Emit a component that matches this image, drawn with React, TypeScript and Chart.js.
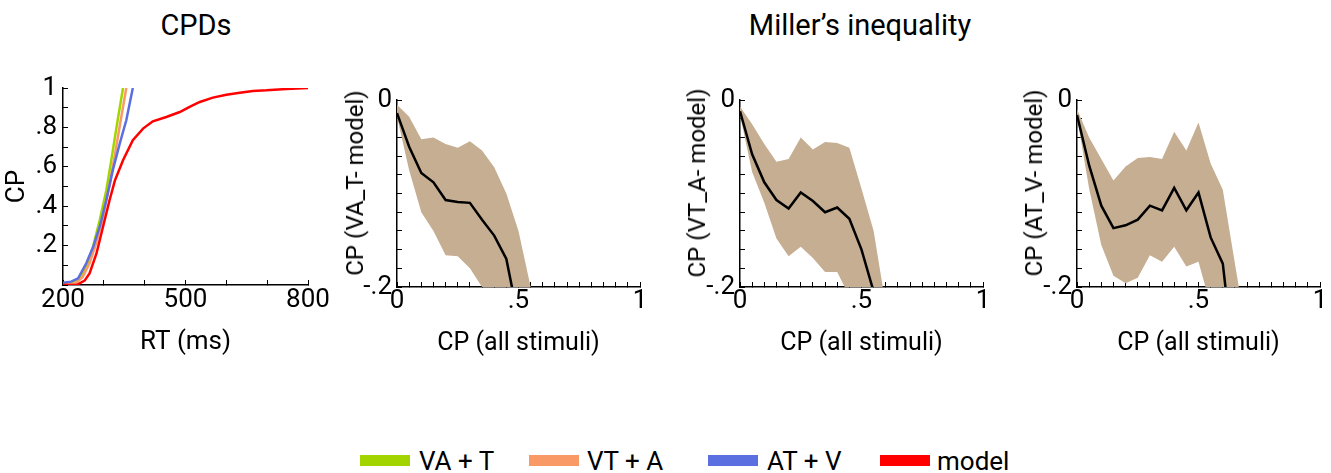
import React, { useEffect, useRef } from "react";
import { Chart, registerables } from "chart.js";

Chart.register(...registerables);

const FONT = "Roboto";
const FS = 26;
const BAND = "#c5ae91";

// ---------- Panel 1: CPDs ----------
const greenRT = [200, 222, 240, 257, 273, 290, 306, 318, 331, 347];
const greenCP = [0.005, 0.012, 0.035, 0.09, 0.19, 0.33, 0.48, 0.63, 0.8, 1.0];
const orangeRT = [200, 230, 248, 265, 281, 298, 314, 327, 340, 355];
const orangeCP = [0, 0.008, 0.04, 0.11, 0.21, 0.345, 0.51, 0.66, 0.82, 1.0];
const blueRT = [200, 220, 237, 257, 274, 290, 306, 322, 339, 355, 371];
const blueCP = [0.012, 0.017, 0.034, 0.11, 0.194, 0.296, 0.43, 0.583, 0.718, 0.836, 1.0];
const redRT = [200, 233, 253, 265, 282, 298, 314, 327, 347, 371, 396, 420, 453, 486, 510, 535, 567, 600, 633, 665, 698, 747, 800];
const redCP = [0, 0, 0.022, 0.059, 0.16, 0.296, 0.43, 0.53, 0.633, 0.735, 0.794, 0.831, 0.853, 0.878, 0.904, 0.929, 0.951, 0.966, 0.976, 0.985, 0.988, 0.995, 1.0];

// ---------- Panels 2-4: Miller's inequality ----------
const cpX = [0, 0.05, 0.1, 0.15, 0.2, 0.25, 0.3, 0.35, 0.4, 0.45, 0.5, 0.55, 0.6, 0.65, 0.7];

const vaMean = [-0.014, -0.05, -0.078, -0.088, -0.107, -0.109, -0.11, -0.128, -0.145, -0.17, -0.235];
const vaUpper = [-0.005, -0.018, -0.042, -0.04, -0.047, -0.051, -0.044, -0.054, -0.072, -0.1, -0.14, -0.2, -0.26];
const vaLower = [-0.018, -0.075, -0.12, -0.14, -0.166, -0.167, -0.18, -0.2, -0.23, -0.26, -0.3, -0.33, -0.36];

const vtMean = [-0.012, -0.058, -0.088, -0.107, -0.116, -0.099, -0.108, -0.12, -0.115, -0.127, -0.16, -0.205];
const vtUpper = [-0.007, -0.026, -0.047, -0.066, -0.063, -0.04, -0.053, -0.045, -0.046, -0.051, -0.095, -0.14, -0.22];
const vtLower = [-0.016, -0.077, -0.11, -0.148, -0.167, -0.157, -0.169, -0.184, -0.184, -0.21, -0.24, -0.27, -0.3];

const atMean = [-0.016, -0.07, -0.113, -0.137, -0.134, -0.128, -0.113, -0.118, -0.094, -0.118, -0.099, -0.147, -0.175, -0.29];
const atUpper = [-0.01, -0.04, -0.063, -0.086, -0.071, -0.062, -0.061, -0.063, -0.034, -0.054, -0.024, -0.068, -0.096, -0.175, -0.254];
const atLower = [-0.018, -0.095, -0.155, -0.188, -0.196, -0.19, -0.166, -0.173, -0.157, -0.178, -0.173, -0.22, -0.26, -0.3, -0.34];

// ---------- Labels ----------
const legendLabels = ["VA + T", "VT + A", "AT + V", "model"];
const legendColors = ["#a2d400", "#f99a66", "#5b6fe0", "#ff0000"];
const cpdsXLabels = [200, 500, 800];
const cpdsYLabels = [0.2, 0.4, 0.6, 0.8, 1];
const millerXLabels = [0, 0.5, 1];
const millerYLabels = [-0.2, 0];
const millerYTitles = ["CP (VA_T- model)", "CP (VT_A- model)", "CP (AT_V- model)"];

const pts = (xs: number[], ys: number[]) => ys.map((y, i) => ({ x: xs[i], y }));

const fmt = (v: number) => {
  if (Math.abs(v) < 1e-9) return "0";
  const s = String(Number(v.toFixed(3)));
  return s.replace(/^0\./, ".").replace(/^-0\./, "-.");
};
const labelCb = (labels: number[]) => (value: any) => {
  const v = Number(value);
  const hit = labels.find((l) => Math.abs(l - v) < 1e-6);
  return hit === undefined ? "" : fmt(hit);
};

const font = { family: FONT, size: FS };

function axisX(min: number, max: number, step: number, labels: number[], title: string, titleSize: number, tickPad: number, titlePad: number, height: number) {
  return {
    type: "linear",
    position: "bottom",
    min,
    max,
    border: { display: true, color: "#000", width: 1.5 },
    grid: { display: true, drawOnChartArea: false, drawTicks: true, tickLength: -5, color: "#000", lineWidth: 1 },
    ticks: { stepSize: step, autoSkip: false, maxRotation: 0, padding: tickPad, color: "#000", font, callback: labelCb(labels) },
    title: { display: true, text: title, color: "#000", font: { family: FONT, size: titleSize }, padding: { top: 0, bottom: titlePad } },
    afterFit: (s: any) => {
      s.height = height;
      s.paddingLeft = 0;
      s.paddingRight = 0;
    },
  };
}

function axisY(min: number, max: number, step: number, labels: number[], title: string, showTitle: boolean, tickPad: number, titlePad: number, width: number) {
  return {
    type: "linear",
    position: "left",
    min,
    max,
    border: { display: true, color: "#000", width: 1.5 },
    grid: { display: true, drawOnChartArea: false, drawTicks: true, tickLength: -5, color: "#000", lineWidth: 1 },
    ticks: { stepSize: step, autoSkip: false, padding: tickPad, color: "#000", font, callback: labelCb(labels) },
    title: { display: showTitle, text: title, color: "#000", font, padding: { top: titlePad, bottom: 0 } },
    afterFit: (s: any) => {
      s.width = width;
      s.paddingTop = 0;
      s.paddingBottom = 0;
    },
  };
}

const lineDs = (label: string, data: any[], color: string, width: number) => ({
  label,
  data,
  borderColor: color,
  backgroundColor: color,
  borderWidth: width,
  pointRadius: 0,
  fill: false,
  tension: 0,
});

function cpdsConfig(): any {
  return {
    type: "line",
    data: {
      datasets: [
        lineDs(legendLabels[3], pts(redRT, redCP), legendColors[3], 2.5),
        lineDs(legendLabels[2], pts(blueRT, blueCP), legendColors[2], 2.5),
        lineDs(legendLabels[1], pts(orangeRT, orangeCP), legendColors[1], 2.5),
        lineDs(legendLabels[0], pts(greenRT, greenCP), legendColors[0], 2.5),
      ],
    },
    options: {
      responsive: false,
      animation: false,
      layout: { padding: { top: 28, right: 22, left: 0, bottom: 0 } },
      plugins: { legend: { display: false }, tooltip: { enabled: false } },
      scales: {
        x: axisX(200, 800, 100, cpdsXLabels, "RT (ms)", 26, 5, 12, 85),
        y: axisY(0, 1, 0.1, cpdsYLabels, "CP", true, 11, 1.5, 63),
      },
    },
  };
}

function millerConfig(mean: number[], upper: number[], lower: number[], yTitle: string): any {
  return {
    type: "line",
    data: {
      datasets: [
        lineDs("mean", pts(cpX, mean), "#000", 2.5),
        {
          label: "upper",
          data: pts(cpX, upper),
          borderWidth: 0,
          borderColor: BAND,
          backgroundColor: BAND,
          pointRadius: 0,
          fill: "+1",
          tension: 0,
        },
        {
          label: "lower",
          data: pts(cpX, lower),
          borderWidth: 0,
          borderColor: BAND,
          backgroundColor: BAND,
          pointRadius: 0,
          fill: false,
          tension: 0,
        },
      ],
    },
    options: {
      responsive: false,
      animation: false,
      layout: { padding: { top: 40, right: 10, left: 0, bottom: 0 } },
      plugins: { legend: { display: false }, tooltip: { enabled: false } },
      scales: {
        x: axisX(0, 1, 0.05, millerXLabels, "CP (all stimuli)", 25, 3.5, 11.5, 83),
        y: axisY(-0.2, 0, 0.02, millerYLabels, yTitle, false, 10, 9.4, 67),
      },
    },
  };
}

function ChartCanvas({ config, left, top, width, height }: { config: () => any; left: number; top: number; width: number; height: number }) {
  const ref = useRef<HTMLCanvasElement | null>(null);
  useEffect(() => {
    if (!ref.current) return;
    const chart = new Chart(ref.current, config());
    return () => chart.destroy();
  }, []);
  return (
    <canvas
      ref={ref}
      width={width}
      height={height}
      style={{ position: "absolute", left, top, width, height, display: "block" }}
    />
  );
}

const textStyle: React.CSSProperties = {
  position: "absolute",
  fontFamily: FONT,
  fontSize: FS,
  color: "#000",
  whiteSpace: "nowrap",
  lineHeight: 1,
};

const legendSwatchX = [360, 529, 708, 880];
const legendTextX = [419, 587, 767, 937];
const yTitleCenterX = [355, 697, 1034];

export default function App() {
  return (
    <div style={{ position: "fixed", left: 0, top: 0, width: 1331, height: 473, overflow: "hidden", background: "#fff" }}>
      <div style={{ ...textStyle, fontSize: 29, left: 196, top: 25, transform: "translate(-50%, -50%)" }}>CPDs</div>
      <div style={{ ...textStyle, fontSize: 29, left: 860, top: 25, transform: "translate(-50%, -50%)" }}>Miller’s inequality</div>

      <ChartCanvas config={cpdsConfig} left={0} top={60} width={330} height={310} />
      <ChartCanvas config={() => millerConfig(vaMean, vaUpper, vaLower, millerYTitles[0])} left={330} top={60} width={320} height={310} />
      <ChartCanvas config={() => millerConfig(vtMean, vtUpper, vtLower, millerYTitles[1])} left={673} top={60} width={320} height={310} />
      <ChartCanvas config={() => millerConfig(atMean, atUpper, atLower, millerYTitles[2])} left={1010} top={60} width={320} height={310} />

      {millerYTitles.map((t, i) => (
        <div
          key={t}
          style={{ ...textStyle, fontSize: 24, left: yTitleCenterX[i], top: 183, transform: "translate(-50%, -50%) rotate(-90deg)" }}
        >
          {t}
        </div>
      ))}

      {legendLabels.map((lab, i) => (
        <React.Fragment key={lab}>
          <div style={{ position: "absolute", left: legendSwatchX[i], top: 455, width: 50, height: 11, background: legendColors[i] }} />
          <div style={{ ...textStyle, left: legendTextX[i], top: 461, transform: "translateY(-50%)" }}>{lab}</div>
        </React.Fragment>
      ))}
    </div>
  );
}
